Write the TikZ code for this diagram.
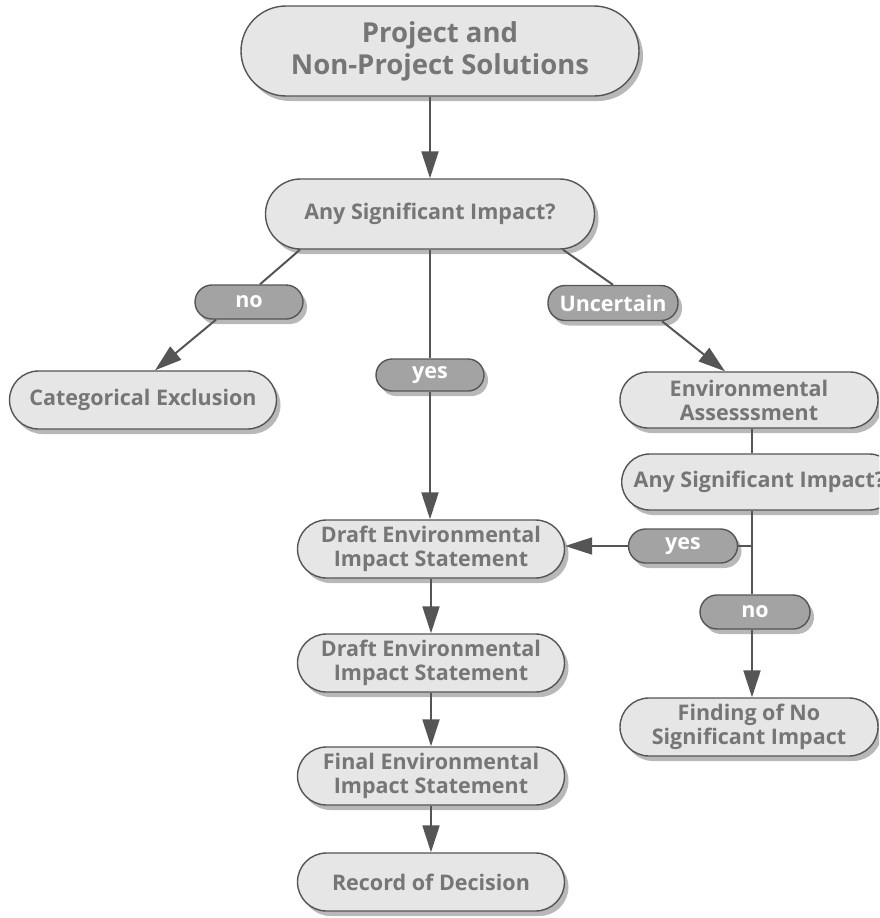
\documentclass[tikz,border=0pt]{standalone}
\usepackage{fontspec}
\setmainfont{Open Sans}
\usetikzlibrary{arrows.meta,shadows}
\definecolor{boxfill}{HTML}{E6E6E6}
\definecolor{pillfill}{HTML}{A3A3A3}
\definecolor{edgegray}{HTML}{555555}
\definecolor{textgray}{HTML}{767676}
\tikzset{
  shadowed/.style={drop shadow={shadow xshift=4pt,shadow yshift=-5pt,fill=black,opacity=0.28}},
  basebox/.style={draw=edgegray,line width=1.4pt,fill=boxfill,shadowed,
    text=textgray,font=\bfseries\fontsize{21.5}{24}\selectfont,align=center,
    inner sep=0pt},
  flowbox/.style={basebox,minimum height=58pt,rounded corners=29pt},
  pill/.style={draw=edgegray,line width=1.4pt,fill=pillfill,shadowed,
    text=white,font=\bfseries\fontsize{21.5}{24}\selectfont,
    inner sep=0pt,minimum height=34pt,rounded corners=17pt},
  link/.style={draw=edgegray,line width=2pt},
  arrow/.style={link,-{Triangle[width=17pt,length=27pt]}},
}
\begin{document}
\begin{tikzpicture}[x=1pt,y=-1pt]
\useasboundingbox (0,0) rectangle (879,918);
\clip (0,0) rectangle (879,918);

% main column
\node[basebox,minimum width=398pt,minimum height=90pt,rounded corners=45pt,
      font=\bfseries\fontsize{27.5}{32}\selectfont] (top) at (440,51)
      {Project and\\Non-Project Solutions};
\node[basebox,minimum width=329pt,minimum height=70pt,rounded corners=35pt]
      (asi) at (430,214) {Any Significant Impact?};
\node[pill,minimum width=108pt] (no1) at (249,302) {no};
\node[pill,minimum width=108pt,minimum height=32pt,rounded corners=16pt]
      (yes1) at (430,375) {yes};
\node[pill,minimum width=130pt,minimum height=35pt] (unc) at (613,303) {Uncertain};
\node[flowbox,minimum width=267pt] (ce) at (143,400) {Categorical Exclusion};
\node[flowbox,minimum width=267pt] (eis1) at (431,549)
      {Draft Environmental\\Impact Statement};
\node[flowbox,minimum width=267pt] (eis2) at (431,663)
      {Draft Environmental\\Impact Statement};
\node[flowbox,minimum width=267pt] (feis) at (431,776)
      {Final Environmental\\Impact Statement};
\node[flowbox,minimum width=267pt] (rod) at (431,882) {Record of Decision};

% right branch
\node[flowbox,minimum width=258pt,minimum height=56pt,rounded corners=28pt]
      (ea) at (749,400) {Environmental\\Assesssment};
\node[flowbox,minimum height=56pt,rounded corners=28pt,inner xsep=12pt,anchor=west]
      (asi2) at (621,482) {Any Significant Impact?};
\node[pill,minimum width=109pt] (yes2) at (683,546) {yes};
\node[pill,minimum width=110pt] (no2) at (755,612) {no};
\node[flowbox,minimum width=258pt] (fonsi) at (749,727)
      {Finding of No\\Significant Impact};
\coordinate (vx) at (752,0);

% connectors
\draw[arrow] (asi.north |- top.south) -- (asi.north);
\draw[link] ([xshift=-130pt]asi.south) -- ([xshift=11pt]no1.north);
\draw[arrow] ([xshift=-33pt]no1.south) -- ([xshift=12pt]ce.north);
\draw[link] (asi.south) -- (yes1.north);
\draw[arrow] (yes1.south) -- (yes1.south |- eis1.north);
\draw[link] ([xshift=133pt]asi.south) -- (unc.north);
\draw[arrow] ([xshift=49pt]unc.south) -- ([xshift=-24pt]ea.north);
\draw[arrow] (eis1.south) -- (eis2.north);
\draw[arrow] (eis2.south) -- (feis.north);
\draw[arrow] (feis.south) -- (rod.north);

\draw[link] (ea.south -| vx) -- (asi2.north -| vx);
\draw[link] (asi2.south -| vx) -- (no2.north -| vx);
\draw[link] (yes2.east) -- (yes2.east -| vx);
\draw[arrow] (yes2.west) -- (yes2.west -| eis1.east);
\draw[arrow] (no2.south -| vx) -- (fonsi.north -| vx);
\end{tikzpicture}
\end{document}
